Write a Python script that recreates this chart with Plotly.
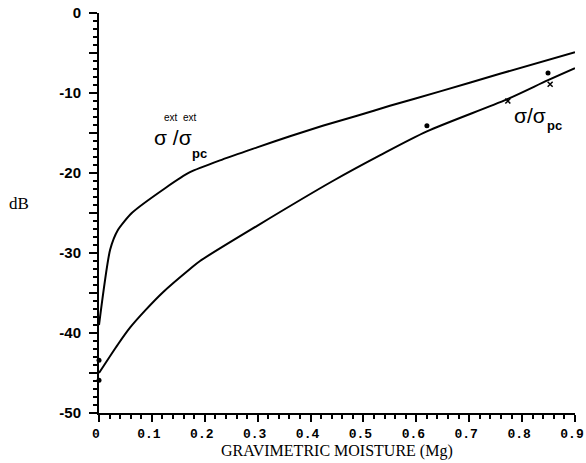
import plotly.graph_objects as go

# Data
moisture_upper = [0, 0.021, 0.036, 0.062, 0.125, 0.172, 0.234, 0.299, 0.361,
                  0.423, 0.488, 0.55, 0.645, 0.758, 0.9]
db_upper = [-39.0, -29.6, -27.1, -25.0, -21.9, -19.9, -18.3, -16.8, -15.4,
            -14.1, -12.85, -11.6, -9.8, -7.6, -4.9]

moisture_lower = [0, 0.036, 0.059, 0.087, 0.121, 0.172, 0.191, 0.299, 0.442,
                  0.531, 0.62, 0.771, 0.849, 0.9]
db_lower = [-45.0, -41.4, -39.3, -37.2, -34.9, -32.0, -31.0, -26.6, -21.0,
            -17.8, -14.8, -10.8, -8.4, -6.9]

dots_x = [0, 0, 0.62, 0.849]
dots_y = [-43.4, -45.9, -14.1, -7.5]
cross_x = [0.773, 0.853]
cross_y = [-11.0, -8.9]

x_tickvals = [0, 0.1, 0.2, 0.3, 0.4, 0.5, 0.6, 0.7, 0.8, 0.9]
x_ticktext = ["0", "0.1", "0.2", "0.3", "0.4", "0.5", "0.6", "0.7", "0.8", "0.9"]
y_tickvals = [-50, -45, -40, -35, -30, -25, -20, -15, -10, -5, 0]
y_ticktext = ["-50", "", "-40", "", "-30", "", "-20", "", "-10", "", "0"]

fig = go.Figure()
fig.add_trace(go.Scatter(x=moisture_upper, y=db_upper, mode="lines",
                         line=dict(color="black", width=2, shape="spline", smoothing=0.6),
                         showlegend=False))
fig.add_trace(go.Scatter(x=moisture_lower, y=db_lower, mode="lines",
                         line=dict(color="black", width=2, shape="spline", smoothing=0.8),
                         showlegend=False))
fig.add_trace(go.Scatter(x=dots_x, y=dots_y, mode="markers", cliponaxis=False,
                         marker=dict(color="black", size=5, symbol="circle"),
                         showlegend=False))
fig.add_trace(go.Scatter(x=cross_x, y=cross_y, mode="markers", cliponaxis=False,
                         marker=dict(color="black", size=5, symbol="x-thin",
                                     line=dict(width=1.5, color="black")),
                         showlegend=False))

sig_font = dict(family="Liberation Sans", size=21, color="black")
small_font = dict(family="Liberation Sans", size=10, color="black")
sub_font = dict(family="Liberation Sans", size=13, color="black", weight="bold")

ann = [
    dict(x=0.1, y=-15.6, text="σ /σ", font=sig_font, xanchor="left", yanchor="middle"),
    dict(x=0.119, y=-13.0, text="ext  ext", font=small_font, xanchor="left", yanchor="middle"),
    dict(x=0.172, y=-17.6, text="pc", font=sub_font, xanchor="left", yanchor="middle"),
    dict(x=0.781, y=-12.75, text="σ/σ", font=sig_font, xanchor="left", yanchor="middle"),
    dict(x=0.843, y=-14.1, text="pc", font=sub_font, xanchor="left", yanchor="middle"),
    dict(x=-0.168, y=0.525, xref="paper", yref="paper", text="dB",
         font=dict(family="Liberation Serif", size=17, color="black"),
         xanchor="center", yanchor="middle"),
    dict(x=0.5, y=-0.096, xref="paper", yref="paper", text="GRAVIMETRIC MOISTURE (Mg)",
         font=dict(family="Liberation Serif", size=16, color="black"),
         xanchor="center", yanchor="middle"),
]
for a in ann:
    a.setdefault("showarrow", False)
    fig.add_annotation(**a)

fig.update_layout(
    width=586, height=463,
    margin=dict(l=99, r=11, t=13, b=50, autoexpand=False),
    paper_bgcolor="white", plot_bgcolor="white",
    xaxis=dict(
        range=[0, 0.9], showgrid=False, zeroline=False, automargin=False,
        showline=True, linecolor="black", linewidth=2,
        tickmode="array", tickvals=x_tickvals, ticktext=x_ticktext,
        ticks="outside", ticklen=7, tickwidth=2, tickcolor="black",
        ticklabelstandoff=0, ticklabelshift=-3, ticklabeloverflow="allow",
        tickfont=dict(family="Liberation Mono", size=13, color="black", weight="bold"),
        minor=dict(tickmode="linear", tick0=0, dtick=0.02, ticks="outside",
                   ticklen=4, tickwidth=1.5, tickcolor="black", showgrid=False),
    ),
    yaxis=dict(
        range=[-50, 0], showgrid=False, zeroline=False, automargin=False,
        showline=True, linecolor="black", linewidth=2,
        tickmode="array", tickvals=y_tickvals, ticktext=y_ticktext,
        ticks="outside", ticklen=8, tickwidth=2, tickcolor="black",
        ticklabelstandoff=5, ticklabeloverflow="allow",
        tickfont=dict(family="Liberation Sans", size=15, color="black", weight="bold"),
        minor=dict(tickmode="linear", tick0=0, dtick=1, ticks="outside",
                   ticklen=4, tickwidth=1.5, tickcolor="black", showgrid=False),
    ),
)

fig.write_html("out.html")
